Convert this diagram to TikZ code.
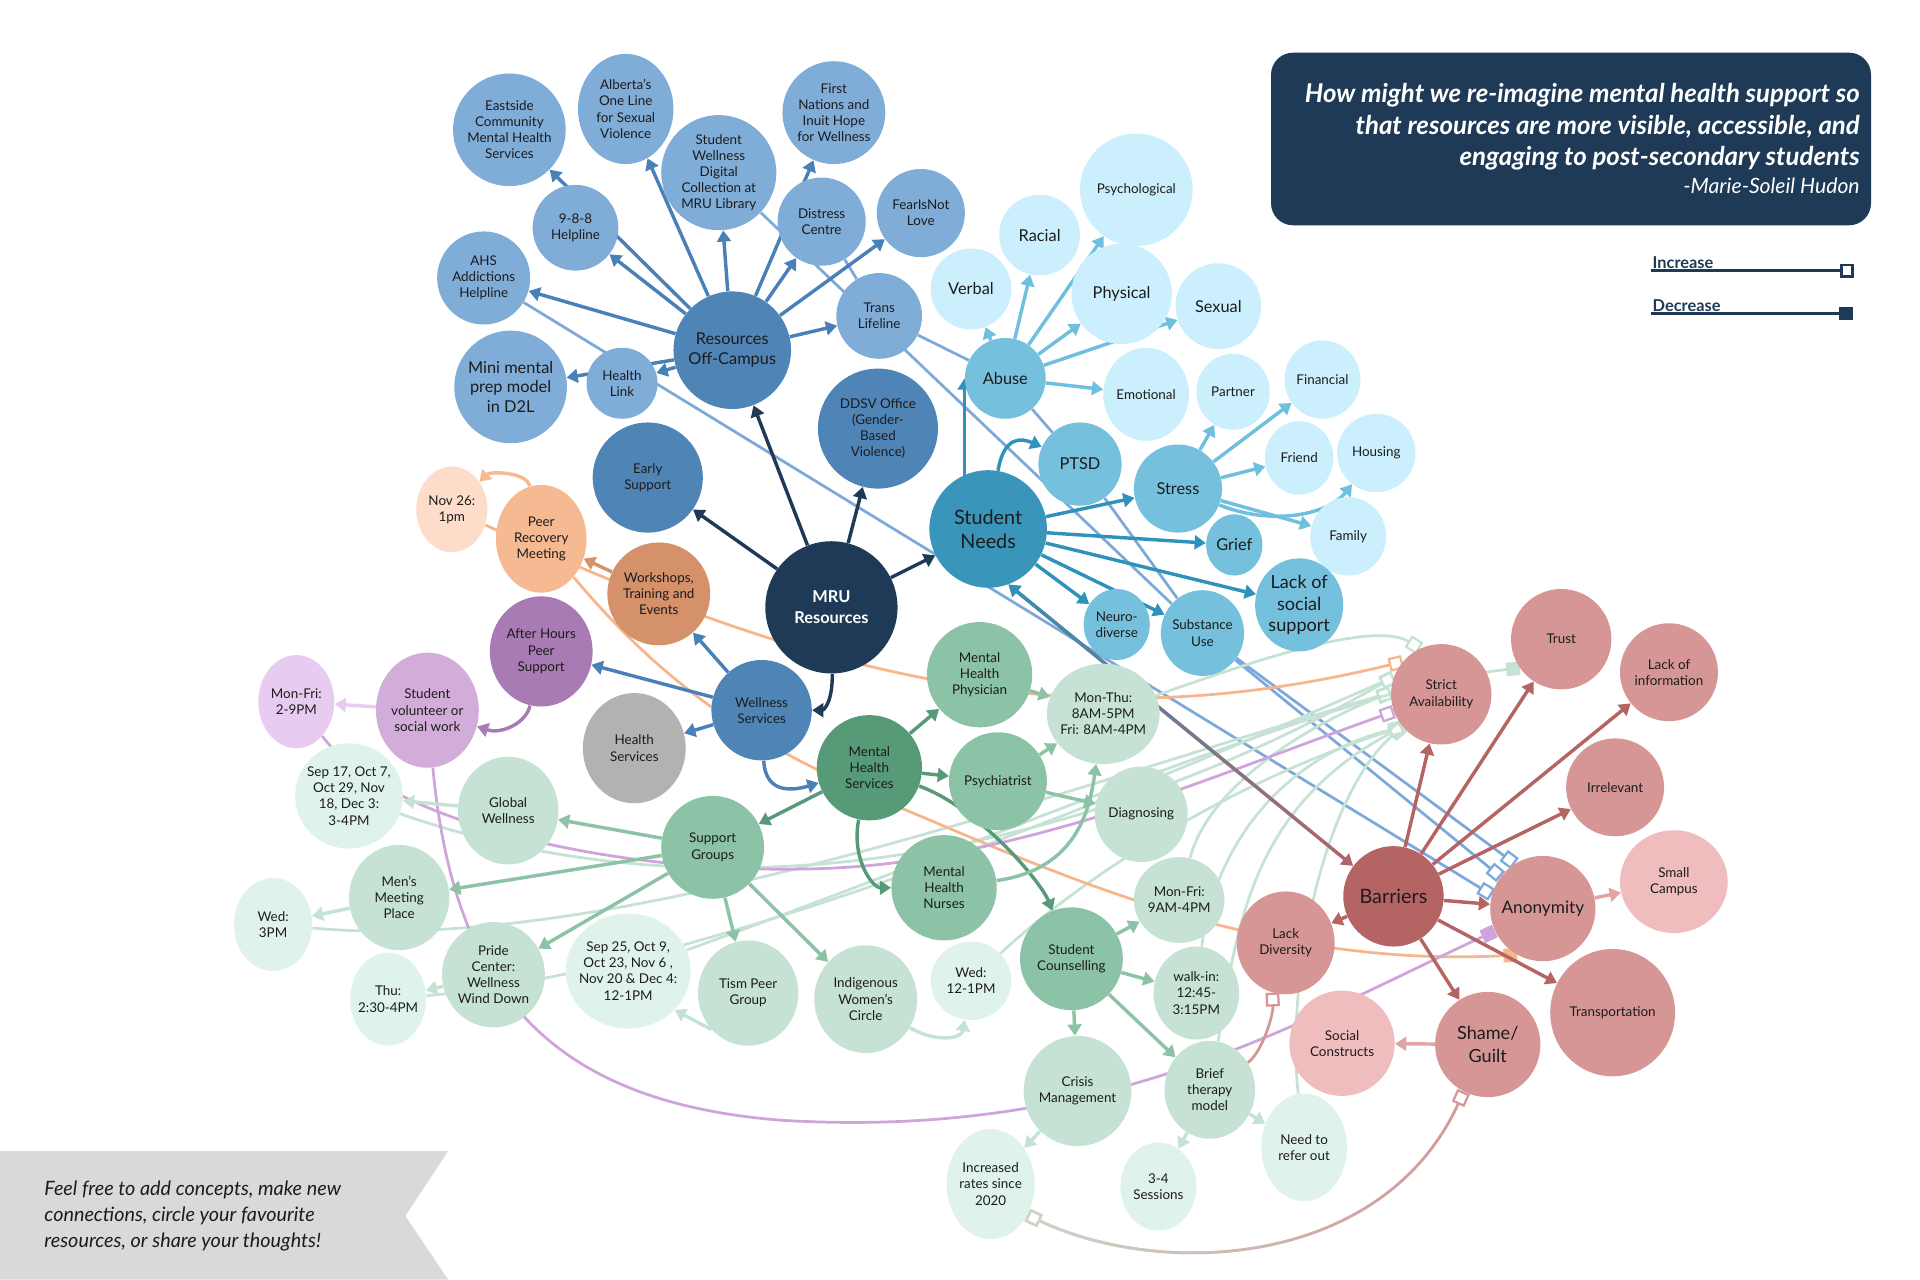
\documentclass[tikz,border=0pt]{standalone}
\usepackage{fontspec}
\setmainfont{Lato}
\usetikzlibrary{shapes.geometric,arrows.meta,backgrounds,fadings}
\definecolor{navy}{HTML}{1F3A56}
\definecolor{ink}{HTML}{1C1C1C}
\definecolor{blmid}{HTML}{4F84B6}
\definecolor{bllt}{HTML}{80ACD8}
\definecolor{blarr}{HTML}{4A80B8}
\definecolor{blline}{HTML}{7DA9DA}
\definecolor{snteal}{HTML}{3A95BA}
\definecolor{snarr}{HTML}{2E92BB}
\definecolor{sky}{HTML}{74C0DD}
\definecolor{skyarr}{HTML}{6FC0DE}
\definecolor{pale}{HTML}{CBEFFC}
\definecolor{terra}{HTML}{D4916A}
\definecolor{peach}{HTML}{F5BA92}
\definecolor{peachlt}{HTML}{FDDDCA}
\definecolor{orline}{HTML}{F7B58B}
\definecolor{plum}{HTML}{A87BB4}
\definecolor{lilac}{HTML}{D3ADD9}
\definecolor{lilaclt}{HTML}{E8CBF0}
\definecolor{puline}{HTML}{CFA4DB}
\definecolor{greyc}{HTML}{B2B2B2}
\definecolor{gdark}{HTML}{579A78}
\definecolor{gmid}{HTML}{8CC2A5}
\definecolor{glt}{HTML}{C5E2D4}
\definecolor{gpale}{HTML}{E0F3EA}
\definecolor{gline}{HTML}{C8D9CC}
\definecolor{rosed}{HTML}{B56464}
\definecolor{rose}{HTML}{D69696}
\definecolor{rosel}{HTML}{EFBDBD}
\definecolor{rosearr}{HTML}{E0A4A4}
\definecolor{banner}{HTML}{D9D9D9}

\begin{document}
\begin{tikzpicture}[
  x=0.025cm, y=-0.025cm,
  bub/.style={ellipse,inner sep=-30pt,align=center,text=ink,
              font=\fontsize{7.8}{9.4}\selectfont},
  sz/.style n args={2}{minimum width=#1*0.025cm,minimum height=#2*0.025cm},
  cs/.style={minimum width=#1*0.025cm,minimum height=#1*0.025cm},
  mid/.style={font=\fontsize{9.5}{11.4}\selectfont},
  big/.style={font=\fontsize{11.5}{14}\selectfont},
  lb/.style={bub,fill=bllt},
  mb/.style={bub,fill=blmid},
  sk/.style={bub,fill=sky},
  pl/.style={bub,fill=pale},
  gd/.style={bub,fill=gdark},
  gm/.style={bub,fill=gmid},
  gl/.style={bub,fill=glt},
  gp/.style={bub,fill=gpale},
  rs/.style={bub,fill=rose},
  rl/.style={bub,fill=rosel},
  arr/.style={line width=2pt,-{Triangle[width=8pt,length=6.5pt]}},
  duo/.style={line width=2pt,{Triangle[width=8pt,length=6.5pt]}-{Triangle[width=8pt,length=6.5pt]}},
  lnk/.style={line width=1.6pt},
  inc/.style={-{Square[open,length=8pt,width=8pt,line width=1.3pt]}},
  dec/.style={-{Square[length=8pt,width=8pt]}},
  sqsq/.style={{Square[open,length=8pt,width=8pt,line width=1.3pt]}-{Square[open,length=8pt,width=8pt,line width=1.3pt]}},
  key/.style={anchor=south west,inner sep=1pt,text=navy,font=\bfseries\fontsize{9.5}{11}\selectfont}
]
\useasboundingbox (0,0) rectangle (1568,1045);

\node[mb,mid,cs=96] (offc) at (598,286) {Resources\\Off-Campus};
\node[lb,cs=92] (eastside) at (416,106) {Eastside\\Community\\Mental Health\\Services};
\node[lb,sz={78}{90}] (alberta) at (511,89) {Alberta's\\One Line\\for Sexual\\Violence};
\node[lb,cs=84] (firstnat) at (681,92) {First\\Nations and\\Inuit Hope\\for Wellness};
\node[lb,cs=94] (digital) at (587,141) {Student\\Wellness\\Digital\\Collection at\\MRU Library};
\node[lb,cs=70] (helpline) at (470,186) {9-8-8\\Helpline};
\node[lb,cs=72] (distress) at (671,181) {Distress\\Centre};
\node[lb,cs=72] (fearnot) at (752,174) {FearIsNot\\Love};
\node[lb,cs=76] (ahs) at (395,227) {AHS\\Addictions\\Helpline};
\node[lb,cs=70] (trans) at (718,258) {Trans\\Lifeline};
\node[lb,mid,cs=92] (minimental) at (417,316) {Mini mental\\prep model\\in D2L};
\node[lb,cs=58] (healthlink) at (508,313) {Health\\Link};

\node[bub,fill=navy,text=white,font=\bfseries\fontsize{9.5}{12}\selectfont,cs=108] (mru) at (679,496) {MRU\\Resources};
\node[mb,cs=90] (early) at (529,390) {Early\\Support};
\node[mb,cs=98] (ddsv) at (717,350) {DDSV Office\\(Gender-\\Based\\Violence)};
\node[mb,cs=82] (wellness) at (622,580) {Wellness\\Services};
\node[bub,fill=terra,cs=84] (workshops) at (538,485) {Workshops,\\Training and\\Events};
\node[bub,fill=peach,sz={74}{88}] (peerrec) at (442,440) {Peer\\Recovery\\Meeting};
\node[bub,fill=peachlt,sz={58}{70}] (nov26) at (369,416) {Nov 26:\\1pm};
\node[bub,fill=plum,sz={84}{90}] (afterhrs) at (442,532) {After Hours\\Peer\\Support};
\node[bub,fill=lilac,sz={84}{94}] (volunteer) at (349,580) {Student\\volunteer or\\social work};
\node[bub,fill=lilaclt,sz={62}{76}] (monfri29) at (242,573) {Mon-Fri:\\2-9PM};
\node[bub,fill=greyc,sz={84}{90}] (healthsrv) at (518,611) {Health\\Services};

\node[bub,fill=snteal,big,cs=96] (needs) at (807,432) {Student\\Needs};
\node[sk,mid,cs=66] (abuse) at (821,309) {Abuse};
\node[pl,mid,cs=66] (verbal) at (793,236) {Verbal};
\node[pl,mid,cs=66] (racial) at (849,192) {Racial};
\node[pl,cs=92] (psycho) at (928,155) {Psychological};
\node[pl,mid,cs=82] (physical) at (916,240) {Physical};
\node[pl,mid,cs=70] (sexual) at (995,250) {Sexual};
\node[pl,sz={70}{76}] (emotional) at (936,322) {Emotional};
\node[pl,sz={60}{62}] (partner) at (1007,320) {Partner};
\node[pl,sz={62}{64}] (financial) at (1080,310) {Financial};
\node[sk,mid,cs=68] (ptsd) at (882,379) {PTSD};
\node[sk,mid,cs=72] (stress) at (962,399) {Stress};
\node[pl,sz={56}{60}] (friend) at (1061,374) {Friend};
\node[pl,cs=64] (housing) at (1124,370) {Housing};
\node[pl,sz={62}{64}] (family) at (1101,438) {Family};
\node[sk,mid,sz={46}{50}] (grief) at (1008,445) {Grief};
\node[sk,font=\fontsize{10.5}{12.6}\selectfont,sz={72}{76}] (lacksoc) at (1061,494) {Lack of\\social\\support};
\node[sk,sz={54}{58}] (neuro) at (912,510) {Neuro-\\diverse};
\node[sk,sz={68}{70}] (substance) at (982,517) {Substance\\Use};

\node[gd,cs=86] (mhs) at (710,627) {Mental\\Health\\Services};
\node[gm,cs=86] (physician) at (800,551) {Mental\\Health\\Physician};
\node[gm,cs=80] (psychiatrist) at (815,638) {Psychiatrist};
\node[gl,sz={92}{82}] (monthu) at (901,583) {Mon-Thu:\\8AM-5PM\\Fri: 8AM-4PM};
\node[gl,sz={76}{78}] (diagnose) at (932,665) {Diagnosing};
\node[gm,cs=86] (nurses) at (771,725) {Mental\\Health\\Nurses};
\node[gm,cs=84] (support) at (582,692) {Support\\Groups};
\node[gl,sz={82}{88}] (global) at (415,662) {Global\\Wellness};
\node[gp,sz={88}{86}] (sep17) at (285,650) {Sep 17, Oct 7,\\Oct 29, Nov\\18, Dec 3:\\3-4PM};
\node[gl,sz={82}{86}] (mens) at (326,733) {Men's\\Meeting\\Place};
\node[gp,sz={64}{76}] (wed3) at (223,755) {Wed:\\3PM};
\node[gl,sz={84}{86}] (pride) at (403,796) {Pride\\Center:\\Wellness\\Wind Down};
\node[gp,sz={62}{76}] (thu) at (317,816) {Thu:\\2:30-4PM};
\node[gp,sz={102}{94}] (sep25) at (513,793) {Sep 25, Oct 9,\\Oct 23, Nov 6 ,\\Nov 20 \& Dec 4:\\12-1PM};
\node[gl,sz={82}{86}] (tism) at (611,811) {Tism Peer\\Group};
\node[gl,sz={84}{88}] (indig) at (707,816) {Indigenous\\Women's\\Circle};
\node[gp,sz={66}{64}] (wed12) at (793,801) {Wed:\\12-1PM};
\node[gm,cs=84] (counsel) at (875,783) {Student\\Counselling};
\node[gl,sz={74}{70}] (monfri94) at (963,735) {Mon-Fri:\\9AM-4PM};
\node[gl,sz={70}{76}] (walkin) at (977,811) {walk-in:\\12:45-\\3:15PM};
\node[gl,sz={88}{90}] (crisis) at (880,891) {Crisis\\Management};
\node[gl,sz={74}{80}] (brief) at (988,890) {Brief\\therapy\\model};
\node[gp,sz={72}{90}] (increased) at (809,967) {Increased\\rates since\\2020};
\node[gp,sz={62}{72}] (sessions) at (946,969) {3-4\\Sessions};
\node[gp,sz={70}{88}] (referout) at (1065,937) {Need to\\refer out};

\node[bub,fill=rosed,big,cs=82] (barriers) at (1138,732) {Barriers};
\node[rs,cs=82] (strict) at (1177,567) {Strict\\Availability};
\node[rs,cs=82] (trust) at (1275,522) {Trust};
\node[rs,cs=80] (lackinfo) at (1363,549) {Lack of\\information};
\node[rs,cs=80] (irrelevant) at (1319,643) {Irrelevant};
\node[rs,font=\fontsize{10}{12}\selectfont,cs=86] (anonymity) at (1260,742) {Anonymity};
\node[rl,sz={88}{84}] (campus) at (1367,720) {Small\\Campus};
\node[rs,sz={102}{104}] (transport) at (1317,827) {Transportation};
\node[rs,sz={80}{84}] (lackdiv) at (1050,770) {Lack\\Diversity};
\node[rs,font=\fontsize{10.5}{13}\selectfont,cs=86] (shame) at (1215,853) {Shame/\\Guilt};
\node[rl,cs=86] (social) at (1096,852) {Social\\Constructs};

\fill[navy,rounded corners=0.45cm] (1038,43) rectangle (1528,184);
\node[anchor=north east,align=right,text=white,inner sep=0pt,
      font=\bfseries\itshape\fontsize{15}{18.3}\selectfont] (question) at (1519,68)
  {How might we re-imagine mental health support so\\that resources are more visible, accessible, and\\engaging to post-secondary students};
\node[anchor=east,text=white,inner sep=0pt,font=\itshape\fontsize{12.3}{14}\selectfont] (author) at (1519,152) {-Marie-Soleil Hudon};

\node[key] (increase) at (1348,221) {Increase};
\node[key] (decrease) at (1348,256) {Decrease};
\coordinate (incend) at (1514,221);
\coordinate (decend) at (1513,256);
\draw[navy,line width=2pt,-{Square[open,length=8pt,width=8pt,line width=1.5pt]}] (increase.south west) -- (incend);
\draw[navy,line width=2pt,-{Square[length=8pt,width=8pt]}] (decrease.south west) -- (decend);

\fill[banner] (0,940) -- (366,940) -- (331,993) -- (366,1045) -- (0,1045) -- cycle;
\node[anchor=west,align=left,inner sep=0pt,text=ink,font=\itshape\fontsize{11.5}{15.2}\selectfont] (note) at (36,993)
  {Feel free to add concepts, make new\\connections, circle your favourite\\resources, or share your thoughts!};

\begin{scope}[on background layer]
\draw[lnk,blline,inc] (ahs) -- (anonymity.165);
\draw[lnk,blline,inc] (digital) -- (substance) -- (anonymity.143);
\draw[lnk,blline,inc] (distress) -- (trans) -- (abuse) -- (ptsd) -- (substance) -- (anonymity.122);

\draw[lnk,glt,inc] (monthu) .. controls (1010,545) and (1120,505) .. (strict.115);
\draw[lnk,glt,inc] (sep17) .. controls (600,760) and (900,690) .. (strict.160);
\draw[lnk,glt,inc] (wed3) .. controls (500,780) and (850,650) .. (strict.178);
\draw[lnk,glt,inc] (thu) .. controls (550,795) and (850,680) .. (strict.160);
\draw[lnk,glt,dec] (sep25) .. controls (800,690) and (1100,560) .. (trust.215);
\draw[lnk,glt,inc] (wed12) .. controls (880,720) and (1000,640) .. (strict.220);
\draw[lnk,glt,inc] (monfri94) .. controls (985,650) and (1050,600) .. (strict.178);
\draw[lnk,glt,inc] (walkin) .. controls (990,700) and (1040,620) .. (strict.220);
\draw[lnk,glt,inc] (brief) .. controls (1010,760) and (1020,660) .. (strict.220);
\draw[lnk,glt,inc] (referout) .. controls (1050,800) and (1080,650) .. (strict.220);

\draw[lnk,orline,inc] (nov26) .. controls (700,570) and (900,600) .. (strict.140);
\draw[lnk,orline,dec] (peerrec) .. controls (560,580) and (640,620) .. (760,670)
  .. controls (900,730) and (1050,790) .. (anonymity.241);
\draw[lnk,puline,inc] (monfri29) .. controls (330,690) and (600,730) .. (760,700)
  .. controls (900,675) and (1000,630) .. (strict.200);
\draw[lnk,puline,dec] (volunteer) .. controls (370,800) and (440,900) .. (640,915)
  .. controls (900,930) and (1050,840) .. (anonymity.205);
\draw[lnk,rose,inc] (brief) .. controls (1030,860) and (1040,830) .. (lackdiv.255);
\draw[lnk,sqsq,rose] (increased.320) .. controls (950,1045) and (1130,1035) .. (shame.243);
\draw[lnk,sqsq,gline,path fading=east] (increased.320) .. controls (950,1045) and (1130,1035) .. (shame.243);

\draw[arr,blarr] (offc) -- (eastside);
\draw[arr,blarr] (offc) -- (alberta);
\draw[arr,blarr] (offc) -- (digital);
\draw[arr,blarr] (offc) -- (firstnat);
\draw[arr,blarr] (offc) -- (distress);
\draw[arr,blarr] (offc) -- (fearnot);
\draw[arr,blarr] (offc) -- (helpline);
\draw[arr,blarr] (offc) -- (ahs);
\draw[arr,blarr] (offc) -- (minimental);
\draw[arr,blarr] (offc) -- (healthlink);
\draw[arr,blarr] (offc) -- (trans);

\draw[arr,navy] (mru) -- (offc);
\draw[arr,navy] (mru) -- (early);
\draw[arr,navy] (mru) -- (ddsv);
\draw[arr,navy] (mru) -- (needs);
\draw[arr,navy] (mru) .. controls (680,575) and (672,580) .. (wellness);

\draw[arr,blarr] (wellness) -- (workshops);
\draw[arr,blarr] (wellness) -- (afterhrs);
\draw[arr,blarr] (wellness) -- (healthsrv);
\draw[arr,blarr] (wellness) .. controls (625,650) and (650,645) .. (mhs);
\draw[arr,terra] (workshops) -- (peerrec);
\draw[arr,peach] (peerrec) .. controls (430,385) and (400,385) .. (nov26);
\draw[arr,plum] (afterhrs) .. controls (430,590) and (410,600) .. (volunteer);
\draw[arr,lilaclt] (volunteer) -- (monfri29);

\draw[arr,snarr] (abuse.west |- needs) -- (abuse.west);
\draw[arr,snarr] (needs) .. controls (820,355) and (835,358) .. (ptsd);
\draw[arr,snarr] (needs) -- (stress);
\draw[arr,snarr] (needs) -- (grief);
\draw[arr,snarr] (needs) -- (lacksoc);
\draw[arr,snarr] (needs) -- (substance);
\draw[arr,snarr] (needs) -- (neuro);
\draw[arr,skyarr] (abuse) -- (verbal);
\draw[arr,skyarr] (abuse) -- (racial);
\draw[arr,skyarr] (abuse) -- (psycho.235);
\draw[arr,skyarr] (abuse) -- (physical);
\draw[arr,skyarr] (abuse) -- (sexual);
\draw[arr,skyarr] (abuse) -- (emotional);
\draw[arr,skyarr] (stress) -- (partner);
\draw[arr,skyarr] (stress) -- (financial);
\draw[arr,skyarr] (stress) -- (friend);
\draw[arr,skyarr] (stress) .. controls (1040,430) and (1085,420) .. (housing);
\draw[arr,skyarr] (stress) -- (family);

\draw[arr,gdark] (mhs) -- (physician);
\draw[arr,gdark] (mhs) -- (psychiatrist);
\draw[arr,gdark] (mhs) -- (support);
\draw[arr,gdark] (mhs) .. controls (695,700) and (712,725) .. (nurses);
\draw[arr,gdark] (mhs) .. controls (800,660) and (850,720) .. (counsel);
\draw[arr,gmid] (physician) -- (monthu);
\draw[arr,gmid] (psychiatrist) -- (monthu);
\draw[arr,gmid] (psychiatrist) -- (diagnose);
\draw[arr,gmid] (nurses) .. controls (880,710) and (890,660) .. (monthu);
\draw[arr,gmid] (support) -- (global);
\draw[arr,gmid] (support) -- (mens);
\draw[arr,gmid] (support) -- (pride);
\draw[arr,gmid] (support) -- (tism);
\draw[arr,gmid] (support) -- (indig);
\draw[arr,gmid] (counsel) -- (monfri94);
\draw[arr,gmid] (counsel) -- (walkin);
\draw[arr,gmid] (counsel) -- (crisis);
\draw[arr,gmid] (counsel) -- (brief);
\draw[arr,glt] (global) -- (sep17);
\draw[arr,glt] (mens) -- (wed3);
\draw[arr,glt] (pride) -- (thu);
\draw[arr,glt] (tism.225) -- (sep25.320);
\draw[arr,glt] (indig) .. controls (760,850) and (785,850) .. (wed12);
\draw[arr,glt] (crisis) -- (increased);
\draw[arr,glt] (brief) -- (sessions);
\draw[arr,glt] (brief) -- (referout);

\draw[arr,rosed] (barriers) -- (strict);
\draw[arr,rosed] (barriers) -- (trust);
\draw[arr,rosed] (barriers) -- (lackinfo);
\draw[arr,rosed] (barriers) -- (irrelevant);
\draw[arr,rosed] (barriers) -- (anonymity);
\draw[arr,rosed] (barriers) -- (transport);
\draw[arr,rosed] (barriers) -- (shame);
\draw[arr,rosed] (barriers) -- (lackdiv);
\draw[arr,rosearr] (anonymity) -- (campus);
\draw[arr,rosearr] (shame) -- (social);

\draw[duo,rosed] (needs.290) -- (barriers.143);
\draw[duo,snarr,path fading=east] (needs.290) -- (barriers.143);
\end{scope}
\end{tikzpicture}
\end{document}
